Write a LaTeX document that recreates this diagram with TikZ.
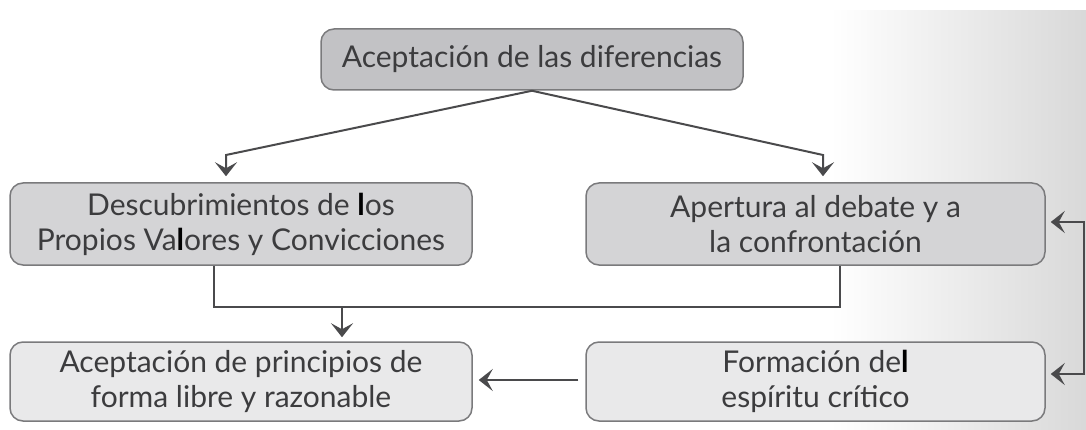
\documentclass[tikz,border=0pt]{standalone}
\usepackage{fontspec}
\setmainfont{Lato}
\usetikzlibrary{arrows.meta,calc}
\definecolor{boxline}{HTML}{7A7A7C}
\definecolor{lineclr}{HTML}{4A4A4C}
\definecolor{txt}{HTML}{3C3C3E}
\definecolor{topfill}{HTML}{C2C2C5}
\definecolor{midfill}{HTML}{D4D4D6}
\definecolor{lowfill}{HTML}{E9E9EA}
\newcommand{\bl}{{\color{black}\bfseries l}}
\tikzset{
  box/.style={draw=boxline, line width=1.5pt, rounded corners=13pt, align=center,
    text=txt, font=\fontsize{30}{35}\selectfont, inner sep=0pt},
  conn/.style={draw=lineclr, line width=2pt},
  tip/.tip={Stealth[length=14pt,width=22pt,inset=6pt]},
  arr/.style={conn, -tip},
  arrboth/.style={conn, tip-tip}
}
\begin{document}
\begin{tikzpicture}[x=1pt,y=-1pt]
\useasboundingbox (0,0) rectangle (1086,430);
\shade[left color=white, right color=black!15] (830,11) rectangle (1086,430);

\node[box, fill=topfill, minimum width=422pt, minimum height=61pt] (top) at (532,59.5) {Aceptación de las diferencias};
\node[box, fill=midfill, minimum width=462pt, minimum height=82pt] (lm) at (241,224) {Descubrimientos de \bl os\\Propios Va\bl ores y Convicciones};
\node[box, fill=midfill, minimum width=459pt, minimum height=82pt] (rm) at (815.5,224) {Apertura al debate y a\\la confrontación};
\node[box, fill=lowfill, minimum width=462pt, minimum height=79pt] (bl) at (241,381.5) {Aceptación de principios de\\forma libre y razonable};
\node[box, fill=lowfill, minimum width=459pt, minimum height=79pt] (br) at (815.5,381.5) {Formación de\bl\\espíritu crítico};

\coordinate (lbend) at (226,155);
\coordinate (rbend) at (823,155);
\draw[arr, shorten >=6pt] (top.south) -- (lbend) -- (lbend |- lm.north);
\draw[arr, shorten >=6pt] (top.south) -- (rbend) -- (rbend |- rm.north);

\coordinate (ml) at (214,307);
\coordinate (mr) at (840,307);
\coordinate (md) at (342,307);
\draw[conn] (ml |- lm.south) -- (ml) -- (mr) -- (mr |- rm.south);
\draw[arr, shorten >=4pt] (md) -- (md |- bl.north);

\draw[arr, shorten <=7pt, shorten >=6pt] ([yshift=1.5pt]br.west) -- ([yshift=1.5pt]bl.east);

\coordinate (fb) at (1084,0);
\draw[arrboth, shorten <=5pt, shorten >=5pt] ([yshift=2pt]rm.east) -- ([yshift=2pt]rm.east -| fb) -- ([yshift=7.5pt]br.east -| fb) -- ([yshift=7.5pt]br.east);
\end{tikzpicture}
\end{document}
